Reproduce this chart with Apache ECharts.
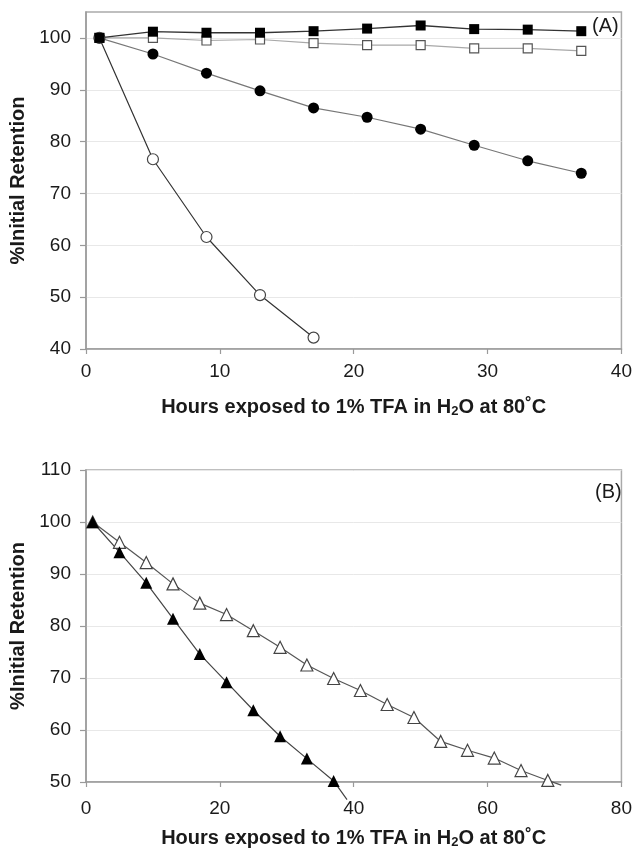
<!DOCTYPE html>
<html>
<head>
<meta charset="utf-8">
<script src="https://cdn.jsdelivr.net/npm/echarts@6/dist/echarts.min.js"></script>
<style>
  html, body { margin: 0; padding: 0; background: #fff; }
  #chart { width: 635px; height: 851px; }
</style>
</head>
<body>
<div id="chart"></div>
<script>
// Panel A: retention vs. hours, four stationary phases
const hoursA = [1, 5, 9, 13, 17, 21, 25, 29, 33, 37];
const squareFilled = [100, 101.2, 101.0, 101.0, 101.3, 101.8, 102.4, 101.7, 101.6, 101.3];
const squareOpen   = [100, 100.0, 99.5, 99.7, 99.0, 98.6, 98.6, 98.0, 98.0, 97.5];
const circleFilled = [100, 96.9, 93.2, 89.8, 86.5, 84.7, 82.4, 79.3, 76.3, 73.9];
const hoursCircleOpen = [1, 5, 9, 13, 17];
const circleOpen   = [100, 76.6, 61.6, 50.4, 42.2];

// Panel B: two further phases, longer exposure
const hoursTriFilled = [1, 5, 9, 13, 17, 21, 25, 29, 33, 37];
const triFilled = [100, 94.2, 88.3, 81.4, 74.6, 69.2, 63.8, 58.8, 54.5, 50.2];
const triFilledTail = [39, 46.6];   // line continues past the axis minimum
const hoursTriOpen = [1, 5, 9, 13, 17, 21, 25, 29, 33, 37, 41, 45, 49, 53, 57, 61, 65, 69];
const triOpen = [100, 96.1, 92.2, 88.1, 84.4, 82.2, 79.1, 75.9, 72.5, 69.9, 67.6, 64.9, 62.4, 57.8, 56.1, 54.6, 52.2, 50.3];
const triOpenTail = [71, 49.4];

// Axis ticks
const yTicksA = [40, 50, 60, 70, 80, 90, 100];
const yTicksB = [50, 60, 70, 80, 90, 100, 110];

const xTitle = '{t|Hours exposed to 1% TFA in H}{s|2}{t|O at 80˚C}';
const yTitle = '%Initial Retention';

const FONT = '"Liberation Sans", Arial, Helvetica, sans-serif';
const TXT = '#1a1a1a';

function pairs(xs, ys) { return xs.map((x, i) => [x, ys[i]]); }
function withTail(xs, ys, tail) {
  const d = pairs(xs, ys);
  d.push({ value: tail, symbol: 'none' });
  return d;
}

function xAxis(gridIndex, max, interval, labelMargin, nameGap) {
  return {
    type: 'value', gridIndex, min: 0, max, interval,
    axisLine: { show: true, lineStyle: { color: '#9a9a9a', width: 1.5 } },
    axisTick: { show: true, inside: false, length: 5, lineStyle: { color: '#9a9a9a', width: 1.2 } },
    splitLine: { show: false },
    axisLabel: { color: TXT, fontFamily: FONT, fontSize: 19, margin: labelMargin },
    name: xTitle, nameLocation: 'middle', nameGap,
    nameTextStyle: {
      rich: {
        t: { fontFamily: FONT, fontSize: 20, fontWeight: 'bold', color: TXT },
        s: { fontFamily: FONT, fontSize: 13, fontWeight: 'bold', color: TXT, padding: [9, 0, 0, 0] }
      }
    }
  };
}

function yAxis(gridIndex, min, max, ticks) {
  return {
    type: 'value', gridIndex, min, max, interval: 10,
    axisLine: { show: true, lineStyle: { color: '#9a9a9a', width: 1.5 } },
    axisTick: { show: true, length: 6, customValues: ticks, lineStyle: { color: '#9a9a9a', width: 1.2 } },
    splitLine: { show: true, lineStyle: { color: '#e8e8e8', width: 1 } },
    axisLabel: { color: TXT, fontFamily: FONT, fontSize: 19, margin: 15, customValues: ticks },
    name: yTitle, nameLocation: 'middle', nameGap: 54, nameRotate: 90,
    nameTextStyle: { fontFamily: FONT, fontSize: 20, fontWeight: 'bold', color: TXT }
  };
}

const chart = echarts.init(document.getElementById('chart'), null, { renderer: 'canvas' });

chart.setOption({
  animation: false,
  backgroundColor: '#fff',
  grid: [
    { left: 86, top: 12, width: 536, height: 337, show: true, borderColor: '#aaaaaa', borderWidth: 1.5, backgroundColor: 'transparent' },
    { left: 86, top: 470, width: 536, height: 312, show: true, borderColor: '#aaaaaa', borderWidth: 1.5, backgroundColor: 'transparent' }
  ],
  xAxis: [xAxis(0, 40, 10, 13, 47), xAxis(1, 80, 20, 17, 45)],
  yAxis: [yAxis(0, 40, 105, yTicksA), yAxis(1, 50, 110, yTicksB)],
  graphic: [
    { type: 'text', left: 592, top: 16, style: { text: '(A)', font: '20px ' + FONT, fill: TXT } },
    { type: 'text', left: 595, top: 482, style: { text: '(B)', font: '20px ' + FONT, fill: TXT } }
  ],
  series: [
    {
      type: 'line', xAxisIndex: 0, yAxisIndex: 0, data: pairs(hoursA, squareOpen),
      symbol: 'rect', symbolSize: 9,
      itemStyle: { color: '#fff', borderColor: '#555', borderWidth: 1.2 },
      lineStyle: { color: '#a8a8a8', width: 1.2 }
    },
    {
      type: 'line', xAxisIndex: 0, yAxisIndex: 0, data: pairs(hoursA, circleFilled),
      symbol: 'circle', symbolSize: 11,
      itemStyle: { color: '#000', borderColor: '#000', borderWidth: 0 },
      lineStyle: { color: '#777', width: 1.2 }
    },
    {
      type: 'line', xAxisIndex: 0, yAxisIndex: 0, data: pairs(hoursCircleOpen, circleOpen),
      symbol: 'circle', symbolSize: 11,
      itemStyle: { color: '#fff', borderColor: '#444', borderWidth: 1.2 },
      lineStyle: { color: '#333', width: 1.2 }
    },
    {
      type: 'line', xAxisIndex: 0, yAxisIndex: 0, data: pairs(hoursA, squareFilled),
      symbol: 'rect', symbolSize: 10,
      itemStyle: { color: '#000', borderColor: '#000', borderWidth: 0 },
      lineStyle: { color: '#333', width: 1.3 }
    },
    {
      type: 'line', xAxisIndex: 1, yAxisIndex: 1, clip: false,
      data: withTail(hoursTriOpen, triOpen, triOpenTail),
      symbol: 'triangle', symbolSize: 12,
      itemStyle: { color: '#fff', borderColor: '#444', borderWidth: 1.2 },
      lineStyle: { color: '#555', width: 1.2 }
    },
    {
      type: 'line', xAxisIndex: 1, yAxisIndex: 1, clip: false,
      data: withTail(hoursTriFilled, triFilled, triFilledTail),
      symbol: 'triangle', symbolSize: 12,
      itemStyle: { color: '#000', borderColor: '#000', borderWidth: 0 },
      lineStyle: { color: '#444', width: 1.2 }
    }
  ]
});
</script>
</body>
</html>
